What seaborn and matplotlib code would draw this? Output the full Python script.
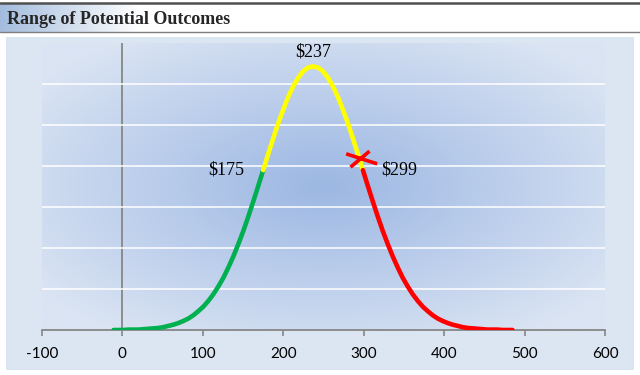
import numpy as np
import pandas as pd
import seaborn as sns
import matplotlib.pyplot as plt
from matplotlib.path import Path
from matplotlib.markers import MarkerStyle
from matplotlib.patches import Rectangle
from matplotlib.lines import Line2D

# Curve: outcome ($) vs. relative likelihood (grid units)
outcomes = [-11.0, -4.8, 1.4, 7.6, 13.8, 20.0, 26.2, 32.4, 38.6, 44.8, 51.0,
            57.2, 63.4, 69.6, 75.8, 82.0, 88.2, 94.4, 100.6, 106.8, 113.0,
            119.2, 125.4, 131.6, 137.8, 144.0, 150.2, 156.4, 162.6, 168.8,
            175.0, 181.2, 187.4, 193.6, 199.8, 206.0, 212.2, 218.4, 224.6,
            230.8, 237.0, 243.2, 249.4, 255.6, 261.8, 268.0, 274.2, 280.4,
            286.6, 292.8, 299.0, 305.2, 311.4, 317.6, 323.8, 330.0, 336.2,
            342.4, 348.6, 354.8, 361.0, 367.2, 373.4, 379.6, 385.8, 392.0,
            398.2, 404.4, 410.6, 416.8, 423.0, 429.2, 435.4, 441.6, 447.8,
            454.0, 460.2, 466.4, 472.6, 478.8, 485.0]
likelihood = [0.00, 0.00, 0.00, 0.01, 0.01, 0.01, 0.02, 0.03, 0.04, 0.05, 0.07,
              0.10, 0.13, 0.17, 0.22, 0.28, 0.36, 0.46, 0.57, 0.71, 0.87,
              1.06, 1.27, 1.52, 1.79, 2.09, 2.41, 2.76, 3.13, 3.51,
              3.90, 4.29, 4.67, 5.04, 5.37, 5.68, 5.94, 6.15, 6.31,
              6.40, 6.43, 6.40, 6.31, 6.15, 5.94, 5.68, 5.37, 5.04,
              4.67, 4.29, 3.90, 3.51, 3.13, 2.76, 2.41, 2.09, 1.79,
              1.52, 1.27, 1.06, 0.87, 0.71, 0.57, 0.46, 0.36, 0.28,
              0.22, 0.17, 0.13, 0.10, 0.07, 0.05, 0.04, 0.03, 0.02,
              0.01, 0.01, 0.01, 0.00, 0.00, 0.00]

low_value = 175
mid_value = 237
high_value = 299
current_value = 295
current_likelihood = 4.15

x_ticks = [-100, 0, 100, 200, 300, 400, 500, 600]
zone_colors = {"low": "#00b050", "mid": "#ffff00", "high": "#ff0000"}

# split the curve into the three coloured zones (boundary points shared)
rows = []
for x, y in zip(outcomes, likelihood):
    if x <= low_value:
        rows.append((x, y, "low"))
    if low_value <= x <= high_value:
        rows.append((x, y, "mid"))
    if x >= high_value:
        rows.append((x, y, "high"))
curve = pd.DataFrame(rows, columns=["outcome", "likelihood", "zone"])

sns.set_style("white")
plt.rcParams["font.family"] = ["Lato", "DejaVu Sans"]

fig = plt.figure(figsize=(6.4, 3.75), dpi=100)
fig.patch.set_facecolor("white")

# chart background panel
fig.add_artist(Rectangle((6 / 640, 5 / 375), 628 / 640, 333 / 375,
                         transform=fig.transFigure, facecolor="#dce6f2",
                         edgecolor="none", zorder=0))

# title band with left fade and rules
band = fig.add_axes([0, 1 - 32 / 375, 140 / 640, 29 / 375], zorder=0)
fade = np.linspace(0, 1, 200)[None, :, None]
c0 = np.array([0.64, 0.74, 0.87])
c1 = np.array([1.0, 1.0, 1.0])
band.imshow(c0 + (c1 - c0) * fade, aspect="auto", extent=(0, 1, 0, 1))
band.axis("off")
fig.add_artist(Line2D([0, 1], [1 - 3 / 375] * 2, color="#505050", lw=1.8))
fig.add_artist(Line2D([0, 1], [1 - 32 / 375] * 2, color="#7f7f7f", lw=1.0))
fig.text(7 / 640, 1 - 20 / 375, "Range of Potential Outcomes", va="center",
         ha="left", fontsize=13, fontweight="bold",
         family=["Liberation Serif", "DejaVu Serif"])

ax = fig.add_axes([42 / 640, 45 / 375, 563 / 640, 287 / 375], zorder=2)
ax.set_xlim(-100, 600)
ax.set_ylim(0, 7)

# radial gradient fill of the plot area
u, v = np.meshgrid(np.linspace(-1, 1, 400), np.linspace(-1, 1, 200))
t = np.clip(np.sqrt(u ** 2 + v ** 2) / 1.25, 0, 1)[..., None]
centre = np.array([156, 183, 227]) / 255
edge = np.array([218, 228, 243]) / 255
ax.imshow(centre + (edge - centre) * t, aspect="auto",
          extent=(-100, 600, 0, 7), zorder=0)

ax.set_yticks(range(1, 7))
ax.yaxis.grid(True, color="white", lw=1.3, alpha=0.85)
ax.xaxis.grid(False)
ax.set_axisbelow(False)
for gl in ax.get_ygridlines():
    gl.set_zorder(1)
ax.tick_params(axis="y", left=False, labelleft=False)

ax.axvline(0, color="#868686", lw=1.3, zorder=2)

sns.lineplot(data=curve, x="outcome", y="likelihood", hue="zone",
             hue_order=["low", "mid", "high"], palette=zone_colors,
             estimator=None, linewidth=3.3, legend=False, ax=ax, zorder=3)

# skewed red cross marking the current value
cross = Path([(-43, 20), (50, -10), (-30, -20), (27, 28)],
             [Path.MOVETO, Path.LINETO, Path.MOVETO, Path.LINETO])
ax.plot([current_value], [current_likelihood], linestyle="none",
        marker=MarkerStyle(cross), markersize=24, markeredgewidth=2.6,
        color="#ff0000", zorder=4)

label_font = dict(fontsize=13, family=["Liberation Serif", "DejaVu Serif"],
                  color="black")
peak = likelihood[outcomes.index(mid_value)]
ax.annotate(f"${mid_value}", xy=(mid_value, peak), xytext=(0, 10),
            textcoords="offset points", ha="center", va="center", **label_font)
ax.annotate(f"${low_value}", xy=(low_value, likelihood[outcomes.index(low_value)]),
            xytext=(-14, 0), textcoords="offset points", ha="right",
            va="center", **label_font)
ax.annotate(f"${high_value}", xy=(high_value, likelihood[outcomes.index(high_value)]),
            xytext=(13, 0), textcoords="offset points", ha="left",
            va="center", **label_font)

ax.set_xticks(x_ticks)
ax.set_xticklabels([str(v) for v in x_ticks])
ax.tick_params(axis="x", bottom=True, direction="out", length=4, width=1.2,
               color="#868686", pad=8, labelsize=11, labelcolor="black")
for side in ["top", "right", "left"]:
    ax.spines[side].set_visible(False)
ax.spines["bottom"].set_color("#868686")
ax.spines["bottom"].set_linewidth(1.3)
ax.set_xlabel("")
ax.set_ylabel("")

fig.savefig("out.png", dpi=100)
